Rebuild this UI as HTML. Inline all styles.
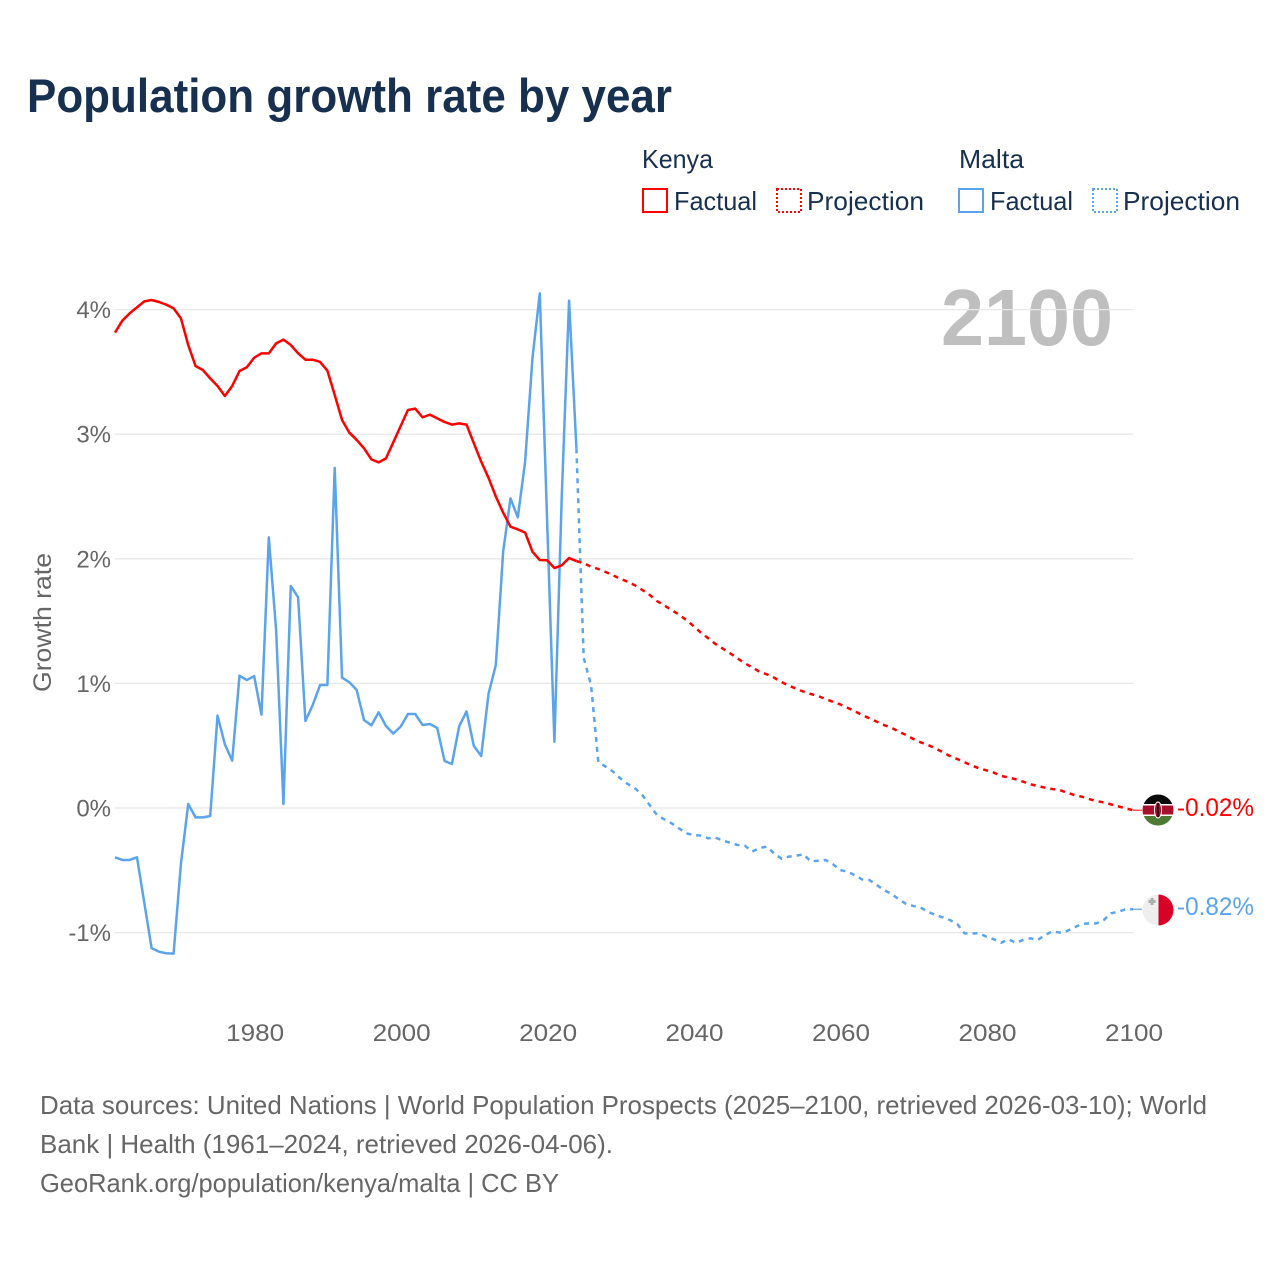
<!DOCTYPE html>
<html lang="en">
<head>
<meta charset="utf-8">
<title>Population growth rate by year</title>
<style>
html,body{margin:0;padding:0;background:#fff;}
svg{display:block;font-family:"Liberation Sans",sans-serif;}
</style>
</head>
<body>
<svg id="chart" xmlns="http://www.w3.org/2000/svg" width="1280" height="1280" viewBox="0 0 1280 1280">
  <defs>
    <clipPath id="clip-kenya"><circle cx="1158" cy="810" r="15.5"/></clipPath>
    <clipPath id="clip-malta"><circle cx="1158" cy="910" r="15.5"/></clipPath>
  </defs>
  <rect width="1280" height="1280" fill="#fff"/>
  <text x="27" y="112" font-size="47" font-weight="700" fill="#18304f" textLength="645" lengthAdjust="spacingAndGlyphs">Population growth rate by year</text>

  <g font-size="26" fill="#18304f">
    <text x="642" y="168" textLength="71" lengthAdjust="spacingAndGlyphs">Kenya</text>
    <text x="959" y="168" textLength="65" lengthAdjust="spacingAndGlyphs">Malta</text>
    <rect x="643" y="189" width="24" height="23" fill="#fff" stroke="#ff0000" stroke-width="2"/>
    <text x="674" y="210" textLength="83" lengthAdjust="spacingAndGlyphs">Factual</text>
    <rect x="777" y="189" width="24" height="23" fill="#fff" stroke="#ff0000" stroke-width="2" stroke-dasharray="2 2"/>
    <text x="807" y="210" textLength="117" lengthAdjust="spacingAndGlyphs">Projection</text>
    <rect x="959" y="189" width="24" height="23" fill="#fff" stroke="#5ba4ec" stroke-width="2"/>
    <text x="990" y="210" textLength="83" lengthAdjust="spacingAndGlyphs">Factual</text>
    <rect x="1093" y="189" width="24" height="23" fill="#fff" stroke="#5ba4ec" stroke-width="2" stroke-dasharray="2 2"/>
    <text x="1123" y="210" textLength="117" lengthAdjust="spacingAndGlyphs">Projection</text>
  </g>

  <text x="941" y="345" font-size="80" font-weight="700" fill="#bfbfbf" textLength="172" lengthAdjust="spacingAndGlyphs">2100</text>

  <g id="grid"></g>
  <g id="xaxis"></g>
  <text transform="translate(51,622.5) rotate(-90)" text-anchor="middle" font-size="25" fill="#666" textLength="139" lengthAdjust="spacingAndGlyphs">Growth rate</text>

  <g id="series" fill="none" stroke-width="2.5" stroke-linejoin="round"></g>

  <g>
    <g clip-path="url(#clip-kenya)">
      <rect x="1142" y="794" width="32" height="32" fill="#fff"/>
      <rect x="1142" y="794" width="32" height="10" fill="#0a0a0a"/>
      <rect x="1142" y="805.5" width="32" height="9" fill="#a90f2c"/>
      <rect x="1142" y="816" width="32" height="10" fill="#4f7a34"/>
      <ellipse cx="1158" cy="810" rx="3.6" ry="8" fill="#a90f2c" stroke="#fff" stroke-width="1"/>
      <rect x="1157.2" y="803" width="1.6" height="14" fill="#0a0a0a"/>
    </g>
    <text id="label-kenya" x="1177" y="816" font-size="25" fill="#ff0000" textLength="77" lengthAdjust="spacingAndGlyphs"></text>
  </g>
  <g>
    <g clip-path="url(#clip-malta)">
      <rect x="1142" y="894" width="16.5" height="32" fill="#eeeeee"/>
      <rect x="1158.5" y="894" width="16" height="32" fill="#d80027"/>
      <path d="M1150.5 898h3v2h2v3h-2v2h-3v-2h-2v-3h2z" fill="#adadad"/>
    </g>
    <text id="label-malta" x="1177" y="915" font-size="25" fill="#5ba4ec" textLength="77" lengthAdjust="spacingAndGlyphs"></text>
  </g>

  <g font-size="26" fill="#666">
    <text x="40" y="1114" textLength="1167" lengthAdjust="spacingAndGlyphs">Data sources: United Nations | World Population Prospects (2025–2100, retrieved 2026-03-10); World</text>
    <text x="40" y="1153" textLength="573" lengthAdjust="spacingAndGlyphs">Bank | Health (1961–2024, retrieved 2026-04-06).</text>
    <text x="40" y="1192" textLength="519" lengthAdjust="spacingAndGlyphs">GeoRank.org/population/kenya/malta | CC BY</text>
  </g>
</svg>
<script>
const firstFactualYear = 1961;
const firstProjectionYear = 2025;
const yTickValues = [-1, 0, 1, 2, 3, 4];
const xTickValues = [1980, 2000, 2020, 2040, 2060, 2080, 2100];
const kenyaEndLabel = "-0.02%";
const maltaEndLabel = "-0.82%";

const kenyaFactual = [
  3.815,3.911,3.970,4.018,4.066,4.077,4.061,4.040,4.010,3.930,
  3.716,3.547,3.515,3.448,3.387,3.307,3.387,3.507,3.537,3.614,
  3.649,3.649,3.729,3.759,3.716,3.649,3.598,3.598,3.580,3.510,
  3.315,3.114,3.012,2.954,2.887,2.798,2.774,2.806,2.935,3.065,
  3.194,3.205,3.135,3.157,3.127,3.098,3.077,3.087,3.077,2.927,
  2.780,2.650,2.500,2.370,2.258,2.236,2.210,2.057,1.990,1.988,
  1.926,1.948,2.006,1.982
];
const kenyaProjection = [
  1.964,1.937,1.918,1.894,1.867,1.840,1.816,1.787,1.750,1.710,
  1.661,1.626,1.589,1.552,1.509,1.460,1.407,1.362,1.316,1.279,
  1.241,1.201,1.161,1.129,1.094,1.073,1.046,1.011,0.982,0.958,
  0.934,0.915,0.899,0.875,0.853,0.832,0.805,0.778,0.746,0.720,
  0.693,0.666,0.645,0.613,0.586,0.554,0.527,0.506,0.479,0.449,
  0.417,0.393,0.367,0.340,0.318,0.302,0.284,0.257,0.246,0.230,
  0.211,0.190,0.177,0.163,0.152,0.144,0.123,0.104,0.091,0.072,
  0.056,0.045,0.029,0.013,-0.003,-0.018
];
const maltaFactual = [
  -0.396,-0.417,-0.417,-0.396,-0.760,-1.126,-1.153,-1.166,-1.169,-0.450,
  0.032,-0.075,-0.075,-0.064,0.741,0.511,0.380,1.062,1.027,1.059,
  0.749,2.172,1.428,0.032,1.782,1.691,0.698,0.827,0.987,0.987,
  2.730,1.046,1.009,0.947,0.706,0.663,0.768,0.658,0.597,0.653,
  0.754,0.754,0.666,0.674,0.642,0.377,0.353,0.658,0.775,0.498,
  0.417,0.915,1.148,2.057,2.485,2.333,2.780,3.609,4.130,2.310,
  0.532,2.500,4.072,2.887
];
const maltaProjection = [
  1.204,0.987,0.366,0.332,0.292,0.238,0.193,0.158,0.104,0.024,
  -0.056,-0.091,-0.123,-0.163,-0.203,-0.217,-0.222,-0.243,-0.238,-0.262,
  -0.278,-0.297,-0.302,-0.350,-0.321,-0.310,-0.364,-0.407,-0.390,-0.383,
  -0.372,-0.428,-0.423,-0.417,-0.450,-0.498,-0.511,-0.538,-0.573,-0.578,
  -0.618,-0.658,-0.690,-0.730,-0.770,-0.786,-0.800,-0.832,-0.859,-0.877,
  -0.899,-0.931,-1.006,-1.006,-1.006,-1.033,-1.054,-1.081,-1.054,-1.081,
  -1.059,-1.046,-1.059,-1.019,-0.990,-1.000,-0.987,-0.958,-0.931,-0.926,
  -0.926,-0.899,-0.845,-0.832,-0.813,-0.813
];

const SVGNS = "http://www.w3.org/2000/svg";
const xLeft = 115, xRight = 1133, yearMin = 1961, yearMax = 2100;
const yZero = 808, pxPerPct = 124.6;
function xScale(year) { return xLeft + (year - yearMin) * (xRight - xLeft) / (yearMax - yearMin); }
function yScale(v) { return yZero - v * pxPerPct; }

function linePath(startYear, values) {
  let d = "";
  values.forEach(function (v, i) {
    const cmd = (d === "") ? "M" : "L";
    d += cmd + xScale(startYear + i).toFixed(2) + " " + yScale(v).toFixed(2);
  });
  return d;
}

const gridGroup = document.getElementById("grid");
yTickValues.forEach(function (t) {
  const line = document.createElementNS(SVGNS, "line");
  
  
  line.setAttribute("x1", xLeft);
  line.setAttribute("x2", xRight);
  line.setAttribute("y1", yScale(t));
  line.setAttribute("y2", yScale(t));
  line.setAttribute("stroke", "#e8e8e8");
  line.setAttribute("stroke-width", "1.3");
  gridGroup.appendChild(line);
  const label = document.createElementNS(SVGNS, "text");
  
  
  label.setAttribute("x", 111);
  label.setAttribute("y", yScale(t) + 8.5);
  label.setAttribute("text-anchor", "end");
  label.setAttribute("font-size", "24");
  label.setAttribute("fill", "#666");
  label.textContent = t + "%";
  gridGroup.appendChild(label);
});

const xGroup = document.getElementById("xaxis");
xTickValues.forEach(function (t) {
  const label = document.createElementNS(SVGNS, "text");
  
  
  label.setAttribute("x", xScale(t) + 1);
  label.setAttribute("y", 1041);
  label.setAttribute("text-anchor", "middle");
  label.setAttribute("font-size", "24");
  label.setAttribute("fill", "#666");
  label.setAttribute("textLength", "58");
  label.setAttribute("lengthAdjust", "spacingAndGlyphs");
  label.textContent = t;
  xGroup.appendChild(label);
});

const seriesGroup = document.getElementById("series");
function addLine(d, color, dashed) {
  const p = document.createElementNS(SVGNS, "path");
  p.setAttribute("d", d);
  p.setAttribute("stroke", color);
  if (dashed) p.setAttribute("stroke-dasharray", "5 5");
  seriesGroup.appendChild(p);
  return p;
}
const lastYear = firstFactualYear + kenyaFactual.length - 1;

const maltaFactualLine = addLine(linePath(firstFactualYear, maltaFactual), "#5ba4ec", false);



const maltaProjectionLine = addLine(linePath(lastYear, [maltaFactual[maltaFactual.length - 1]].concat(maltaProjection)), "#5ba4ec", true);



const kenyaFactualLine = addLine(linePath(firstFactualYear, kenyaFactual), "#ff0000", false);



const kenyaProjectionLine = addLine(linePath(lastYear, [kenyaFactual[kenyaFactual.length - 1]].concat(kenyaProjection)), "#ff0000", true);



function addLeader(values, color, name) {
  const yEnd = yScale(values[values.length - 1]);
  const leader = addLine("M" + xScale(yearMax) + " " + yEnd + "L1142 " + yEnd, color, false);
  leader.setAttribute("stroke-width", "1.5");
  
  
}
addLeader(kenyaProjection, "#ff5555", "kenya-leader-line");
addLeader(maltaProjection, "#7ab5ef", "malta-leader-line");

document.getElementById("label-kenya").textContent = kenyaEndLabel;
document.getElementById("label-malta").textContent = maltaEndLabel;
</script>
</body>
</html>
